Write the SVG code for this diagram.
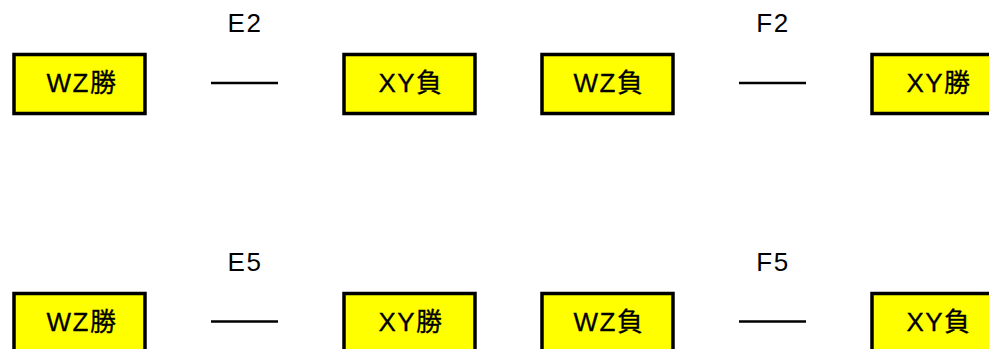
<svg xmlns="http://www.w3.org/2000/svg" width="989" height="349" viewBox="0 0 989 349">
<style>
.box{fill:#ffff00;stroke:#000;stroke-width:3.5}
.t{font-family:"Liberation Sans","Noto Sans CJK JP",sans-serif;font-size:26px;letter-spacing:1.5px;text-anchor:middle;fill:#000;stroke:#000;stroke-width:0.3}
.lbl{font-family:"Liberation Sans",sans-serif;font-size:26px;letter-spacing:1.5px;text-anchor:middle;fill:#000}
.c{stroke:#000;stroke-width:2.5}
</style>
<rect width="989" height="349" fill="#fff"/>
<g id="n1"><rect class="box" x="14" y="54.5" width="131" height="59"/><text class="t" x="82" y="92">WZ勝</text></g>
<g id="n2"><rect class="box" x="344" y="54.5" width="131" height="59"/><text class="t" x="411" y="92">XY負</text></g>
<g id="n3"><rect class="box" x="542" y="54.5" width="131" height="59"/><text class="t" x="609" y="92">WZ負</text></g>
<g id="n4"><rect class="box" x="872" y="54.5" width="131" height="59"/><text class="t" x="939" y="92">XY勝</text></g>
<g id="n5"><rect class="box" x="14" y="293.5" width="131" height="59"/><text class="t" x="82" y="331">WZ勝</text></g>
<g id="n6"><rect class="box" x="344" y="293.5" width="131" height="59"/><text class="t" x="411" y="331">XY勝</text></g>
<g id="n7"><rect class="box" x="542" y="293.5" width="131" height="59"/><text class="t" x="609" y="331">WZ負</text></g>
<g id="n8"><rect class="box" x="872" y="293.5" width="131" height="59"/><text class="t" x="939" y="331">XY負</text></g>
<g id="connectors">
<line class="c" x1="211" y1="83" x2="278" y2="83"/>
<line class="c" x1="739" y1="83" x2="806" y2="83"/>
<line class="c" x1="211" y1="321.5" x2="278" y2="321.5"/>
<line class="c" x1="739" y1="321.5" x2="806" y2="321.5"/>
<text class="lbl" x="245" y="32">E2</text>
<text class="lbl" x="773" y="32">F2</text>
<text class="lbl" x="245" y="271">E5</text>
<text class="lbl" x="773" y="271">F5</text>
</g>
</svg>
